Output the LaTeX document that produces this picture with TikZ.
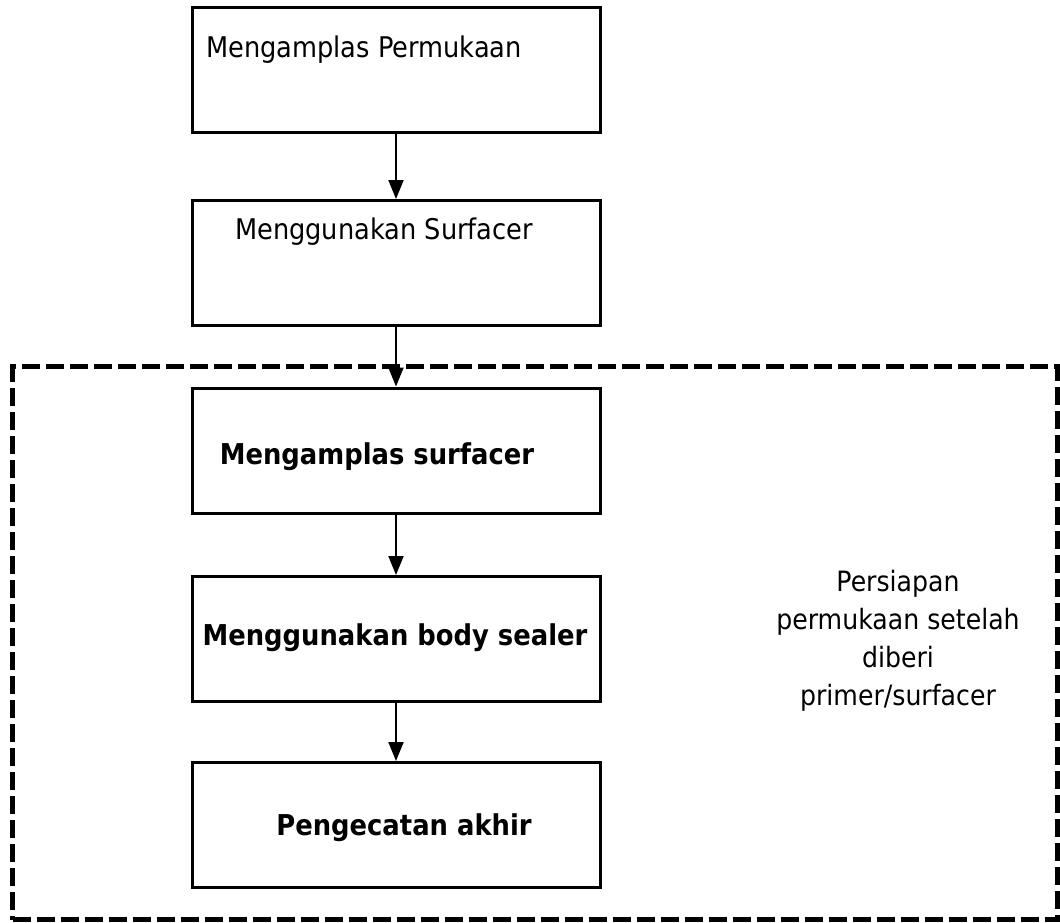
\documentclass[tikz,border=0pt]{standalone}
\usepackage{fontspec}
\setmainfont{DejaVu Sans}[FakeStretch=0.9]
\usetikzlibrary{arrows.meta}
\begin{document}
\begin{tikzpicture}[x=1pt,y=-1pt,
  box/.style={draw,line width=3pt,minimum width=408pt,minimum height=125pt,inner sep=0pt},
  txt/.style={inner sep=0pt,font=\fontsize{28.5}{32}\selectfont},
  btxt/.style={inner sep=0pt,font=\fontsize{28.7}{32}\selectfont\bfseries},
  arr/.style={-{Triangle[length=19pt,width=15pt]},line width=2pt}]
\useasboundingbox (0,0) rectangle (1060,922);
\node[box] (b1) at (396,69.5) {};
\node[box] (b2) at (396,263) {};
\node[box] (b3) at (396,450.5) {};
\node[box] (b4) at (396,639) {};
\node[box] (b5) at (396,825) {};
\node[draw,dash pattern=on 18pt off 6pt,line width=5.5pt,minimum width=1045pt,minimum height=553pt,inner sep=0pt] (grp) at (535,643) {};
\node[txt,anchor=west] (t1) at (206,50) {Mengamplas Permukaan};
\node[txt,anchor=west] (t2) at (235,232) {Menggunakan Surfacer};
\node[btxt] (t3) at (377,457) {Mengamplas surfacer};
\node[btxt] (t4) at (395,638) {Menggunakan body sealer};
\node[btxt] (t5) at (404,828) {Pengecatan akhir};
\node[txt,align=center,font=\fontsize{28}{38}\selectfont] (lab) at (898,641) {Persiapan\\permukaan setelah\\diberi\\primer/surfacer};
\draw[arr] (b1) -- (b2);
\draw[arr] (b2) -- (b3);
\draw[arr] (b3) -- (b4);
\draw[arr] (b4) -- (b5);
\end{tikzpicture}
\end{document}
